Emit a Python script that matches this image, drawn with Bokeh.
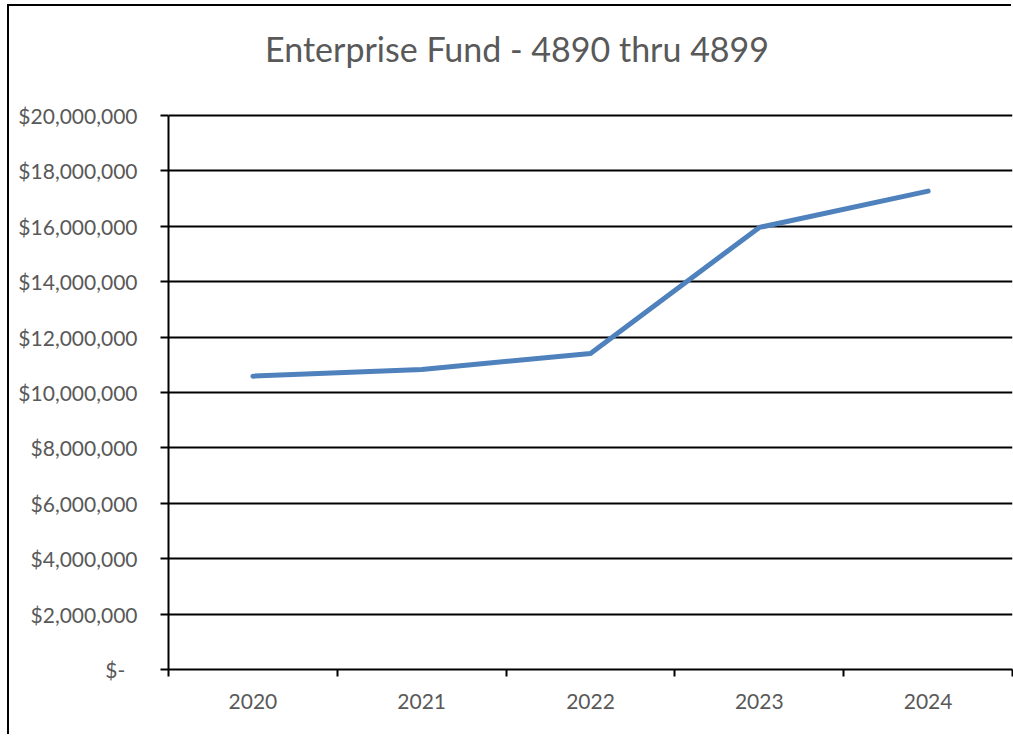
from bokeh.plotting import figure
from bokeh.models import FixedTicker, NumeralTickFormatter, Range1d, Label
from bokeh.embed import file_html
from bokeh.resources import INLINE

# ---- data ----
years = ["2020", "2021", "2022", "2023", "2024"]
values = [10_590_000, 10_830_000, 11_410_000, 15_960_000, 17_270_000]
y_ticks = [0, 2_000_000, 4_000_000, 6_000_000, 8_000_000, 10_000_000,
           12_000_000, 14_000_000, 16_000_000, 18_000_000, 20_000_000]
title_text = "Enterprise Fund - 4890 thru 4899"

GRAY = "#595959"
FONT = "Lato"

x_pos = [i + 0.5 for i in range(len(years))]

# frame extends to the top of the canvas so the title can sit inside it
p = figure(width=1004, height=730, output_backend="svg", toolbar_location=None,
           x_range=Range1d(0, len(years)), y_range=Range1d(0, 23_935_000),
           min_border_left=159, min_border_right=1, min_border_bottom=67,
           min_border_top=0, margin=(6, 0, 0, 9))
p.styles = {"box-shadow": "-2px -2px 0 0 black"}
p.title = None

p.add_layout(Label(x=2.065, y=22_420_000, text=title_text, text_font=FONT,
                   text_font_size="34px", text_color=GRAY,
                   text_align="center", text_baseline="middle"))

p.line(x_pos, values, line_color="#4F81BD", line_width=5, line_cap="round",
       line_join="round")

# y axis
p.yaxis.bounds = (y_ticks[0], y_ticks[-1])
p.yaxis.ticker = FixedTicker(ticks=y_ticks)
p.yaxis.formatter = NumeralTickFormatter(format="$0,0")
p.yaxis.major_label_overrides = {0: "$-\u2007"}
p.yaxis.major_tick_out = 8
p.yaxis.major_tick_in = 0
p.yaxis.minor_tick_out = 0
p.yaxis.minor_tick_in = 0
p.yaxis.axis_line_color = "black"
p.yaxis.axis_line_width = 2
p.yaxis.major_tick_line_color = "black"
p.yaxis.major_tick_line_width = 2
p.yaxis.major_label_text_font = FONT
p.yaxis.major_label_text_font_size = "21px"
p.yaxis.major_label_text_color = GRAY
p.yaxis.major_label_standoff = 23

# x axis: labels at category centres, ticks at boundaries
p.xaxis.ticker = FixedTicker(ticks=x_pos, minor_ticks=list(range(len(years) + 1)))
p.xaxis.major_label_overrides = {x: y for x, y in zip(x_pos, years)}
p.xaxis.major_tick_out = 0
p.xaxis.major_tick_in = 0
p.xaxis.minor_tick_out = 7
p.xaxis.minor_tick_in = 0
p.xaxis.minor_tick_line_color = "black"
p.xaxis.minor_tick_line_width = 2
p.xaxis.axis_line_color = "black"
p.xaxis.axis_line_width = 2
p.xaxis.major_label_text_font = FONT
p.xaxis.major_label_text_font_size = "21px"
p.xaxis.major_label_text_color = GRAY
p.xaxis.major_label_standoff = 17

p.xgrid.grid_line_color = None
p.ygrid.ticker = FixedTicker(ticks=y_ticks)
p.ygrid.grid_line_color = "black"
p.ygrid.grid_line_width = 2

p.outline_line_color = None
p.background_fill_color = "white"
p.border_fill_color = "white"

open("out.html", "w").write(file_html(p, INLINE))
